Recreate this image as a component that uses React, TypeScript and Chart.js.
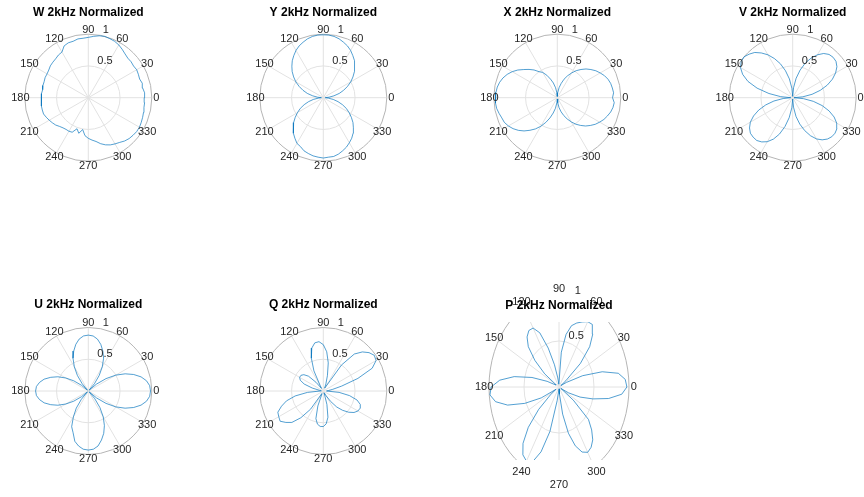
import { useEffect, useRef } from "react";
import { Chart, registerables } from "chart.js";

Chart.register(...registerables);

// Sample angles in degrees (counter-clockwise from +x)
const THETA = [
  0, 5, 10, 15, 20, 25, 30, 35, 40, 45, 50, 55,
  60, 65, 70, 75, 80, 85, 90, 95, 100, 105, 110, 115,
  120, 125, 130, 135, 140, 145, 150, 155, 160, 165, 170, 175,
  180, 185, 190, 195, 200, 205, 210, 215, 220, 225, 230, 235,
  240, 245, 250, 255, 260, 265, 270, 275, 280, 285, 290, 295,
  300, 305, 310, 315, 320, 325, 330, 335, 340, 345, 350, 355,
];

// Normalized magnitudes at 2 kHz, one value per angle in THETA
const W_R = [
  0.88, 0.89, 0.87, 0.88, 0.86, 0.87, 0.88, 0.87, 0.88, 0.88, 0.9, 0.93,
  0.96, 0.98, 0.99, 1.0, 0.99, 0.97, 0.95, 0.94, 0.94, 0.92, 0.92, 0.9,
  0.83, 0.82, 0.8, 0.79, 0.78, 0.76, 0.75, 0.75, 0.74, 0.74, 0.73, 0.74,
  0.74, 0.74, 0.75, 0.75, 0.75, 0.73, 0.71, 0.69, 0.67, 0.64, 0.62, 0.61,
  0.61, 0.6, 0.52, 0.58, 0.51, 0.6, 0.64, 0.67, 0.7, 0.75, 0.79, 0.82,
  0.84, 0.86, 0.89, 0.91, 0.92, 0.93, 0.93, 0.92, 0.91, 0.9, 0.89, 0.89,
];
const Y_R = [
  0.03, 0.09, 0.17, 0.26, 0.34, 0.42, 0.5, 0.57, 0.64, 0.7, 0.76, 0.81,
  0.86, 0.9, 0.93, 0.96, 0.98, 0.99, 0.99, 0.99, 0.98, 0.96, 0.93, 0.9,
  0.86, 0.81, 0.76, 0.7, 0.64, 0.57, 0.5, 0.42, 0.34, 0.26, 0.17, 0.09,
  0.03, 0.08, 0.16, 0.24, 0.32, 0.4, 0.47, 0.54, 0.61, 0.67, 0.73, 0.78,
  0.83, 0.85, 0.89, 0.91, 0.93, 0.94, 0.95, 0.94, 0.94, 0.92, 0.89, 0.86,
  0.82, 0.78, 0.73, 0.67, 0.61, 0.54, 0.47, 0.4, 0.32, 0.24, 0.16, 0.08,
];
const X_R = [
  0.87, 0.89, 0.88, 0.87, 0.85, 0.82, 0.78, 0.74, 0.69, 0.64, 0.58, 0.52,
  0.45, 0.38, 0.31, 0.23, 0.16, 0.08, 0.02, 0.08, 0.16, 0.24, 0.31, 0.39,
  0.46, 0.5, 0.57, 0.63, 0.69, 0.76, 0.82, 0.87, 0.91, 0.94, 0.96, 0.97,
  0.97, 0.98, 0.97, 0.95, 0.93, 0.92, 0.89, 0.85, 0.8, 0.74, 0.67, 0.6,
  0.52, 0.43, 0.34, 0.25, 0.17, 0.08, 0.02, 0.08, 0.16, 0.23, 0.3, 0.37,
  0.44, 0.51, 0.57, 0.63, 0.68, 0.73, 0.77, 0.81, 0.84, 0.87, 0.89, 0.9,
];
const V_R = [
  0.02, 0.16, 0.31, 0.45, 0.58, 0.69, 0.78, 0.85, 0.89, 0.9, 0.89, 0.85,
  0.78, 0.69, 0.58, 0.45, 0.31, 0.16, 0.02, 0.15, 0.3, 0.44, 0.57, 0.68,
  0.78, 0.86, 0.93, 0.97, 1.0, 0.99, 0.95, 0.87, 0.75, 0.58, 0.38, 0.19,
  0.03, 0.15, 0.3, 0.44, 0.57, 0.68, 0.77, 0.83, 0.87, 0.88, 0.88, 0.85,
  0.8, 0.72, 0.61, 0.47, 0.32, 0.16, 0.02, 0.15, 0.3, 0.43, 0.55, 0.66,
  0.75, 0.81, 0.85, 0.87, 0.87, 0.85, 0.8, 0.72, 0.61, 0.48, 0.33, 0.17,
];
const U_R = [
  0.98, 0.97, 0.93, 0.86, 0.76, 0.64, 0.5, 0.34, 0.17, 0.02, 0.15, 0.3,
  0.44, 0.57, 0.67, 0.76, 0.83, 0.87, 0.88, 0.87, 0.83, 0.76, 0.67, 0.57,
  0.44, 0.3, 0.15, 0.02, 0.14, 0.28, 0.41, 0.53, 0.63, 0.72, 0.78, 0.82,
  0.83, 0.82, 0.78, 0.72, 0.63, 0.53, 0.41, 0.28, 0.14, 0.02, 0.17, 0.33,
  0.47, 0.62, 0.7, 0.82, 0.88, 0.92, 0.93, 0.92, 0.88, 0.8, 0.71, 0.6,
  0.47, 0.32, 0.16, 0.02, 0.17, 0.34, 0.5, 0.64, 0.76, 0.86, 0.93, 0.97,
];
const Q_R = [
  0.05, 0.08, 0.15, 0.3, 0.58, 0.85, 0.96, 0.98, 0.94, 0.87, 0.76, 0.5,
  0.08, 0.05, 0.12, 0.25, 0.45, 0.62, 0.73, 0.78, 0.77, 0.7, 0.55, 0.35,
  0.1, 0.05, 0.18, 0.33, 0.4, 0.43, 0.43, 0.4, 0.32, 0.18, 0.06, 0.03,
  0.05, 0.25, 0.45, 0.6, 0.7, 0.79, 0.81, 0.83, 0.77, 0.7, 0.55, 0.35,
  0.05, 0.05, 0.25, 0.45, 0.53, 0.56, 0.56, 0.52, 0.42, 0.22, 0.05, 0.03,
  0.08, 0.2, 0.33, 0.43, 0.52, 0.59, 0.63, 0.64, 0.62, 0.55, 0.42, 0.25,
];
const P_R = [
  0.97, 0.95, 0.86, 0.64, 0.36, 0.12, 0.03, 0.12, 0.4, 0.62, 0.75, 0.83,
  0.82, 0.78, 0.74, 0.69, 0.58, 0.38, 0.05, 0.03, 0.1, 0.25, 0.45, 0.65,
  0.74, 0.75, 0.71, 0.62, 0.45, 0.25, 0.05, 0.05, 0.18, 0.4, 0.65, 0.85,
  0.97, 0.99, 0.92, 0.76, 0.52, 0.28, 0.05, 0.15, 0.38, 0.62, 0.8, 0.9,
  0.93, 0.9, 0.75, 0.5, 0.15, 0.03, 0.02, 0.08, 0.3, 0.52, 0.68, 0.78,
  0.82, 0.8, 0.75, 0.66, 0.55, 0.25, 0.03, 0.15, 0.32, 0.5, 0.72, 0.9,
];

// Axis ticks
const ANGLE_TICKS = [0, 30, 60, 90, 120, 150, 180, 210, 240, 270, 300, 330];
const R_TICKS = [0.5, 1];
const R_TICK_LABELS = ["0.5", "1"];
const R_LABEL_ANGLE = 80;

const TITLES = [
  "W 2kHz Normalized",
  "Y 2kHz Normalized",
  "X 2kHz Normalized",
  "V 2kHz Normalized",
  "U 2kHz Normalized",
  "Q 2kHz Normalized",
  "P 2kHz Normalized",
];

// Styling
const LINE_COLOR = "rgba(0,114,189,0.85)";
const GRID_COLOR = "#e2e2e2";
const EDGE_COLOR = "#b5b5b5";
const TEXT_COLOR = "#262626";
const FONT = '"Liberation Sans", Arial, Helvetica, sans-serif';

type Box = { x: number; y: number; w: number; h: number };
type Area = { left: number; right: number; top: number; bottom: number };
type PanelSpec = {
  title: string;
  r: number[];
  cx: number;
  cy: number;
  ax: number; // pixels per unit radius, horizontal
  ay: number; // pixels per unit radius, vertical
  titleY: number;
  box: Box;
  area?: Area; // clipping rectangle when the axes box cuts the rings
};

const RAD = 63.5;
const COL_X = [88.3, 323.3, 557.3, 792.7];
const ROW_Y = [97.7, 391];
const TITLE_Y = [13, 305];

function cellBox(col: number, row: number): Box {
  return { x: col * 216, y: row * 248, w: 216, h: row === 0 ? 248 : 249 };
}

const PANELS: PanelSpec[] = [
  { title: TITLES[0], r: W_R, cx: COL_X[0], cy: ROW_Y[0], ax: RAD, ay: RAD, titleY: TITLE_Y[0], box: cellBox(0, 0) },
  { title: TITLES[1], r: Y_R, cx: COL_X[1], cy: ROW_Y[0], ax: RAD, ay: RAD, titleY: TITLE_Y[0], box: cellBox(1, 0) },
  { title: TITLES[2], r: X_R, cx: COL_X[2], cy: ROW_Y[0], ax: RAD, ay: RAD, titleY: TITLE_Y[0], box: cellBox(2, 0) },
  { title: TITLES[3], r: V_R, cx: COL_X[3], cy: ROW_Y[0], ax: RAD, ay: RAD, titleY: TITLE_Y[0], box: cellBox(3, 0) },
  { title: TITLES[4], r: U_R, cx: COL_X[0], cy: ROW_Y[1], ax: RAD, ay: RAD, titleY: TITLE_Y[1], box: cellBox(0, 1) },
  { title: TITLES[5], r: Q_R, cx: COL_X[1], cy: ROW_Y[1], ax: RAD, ay: RAD, titleY: TITLE_Y[1], box: cellBox(1, 1) },
  {
    title: TITLES[6], r: P_R, cx: 559, cy: 387, ax: 70, ay: 92, titleY: 306, box: cellBox(2, 1),
    area: { left: 474, right: 644, top: 322, bottom: 460 },
  },
];

function toXY(r: number[]) {
  const pts = THETA.map((t, i) => {
    const a = (t * Math.PI) / 180;
    return { x: r[i] * Math.cos(a), y: r[i] * Math.sin(a) };
  });
  pts.push(pts[0]);
  return pts;
}

function polarFrame(spec: PanelSpec) {
  return {
    id: "polarFrame",
    beforeDatasetsDraw(chart: any) {
      const { ctx, chartArea, scales } = chart;
      const xs = scales.x;
      const ys = scales.y;
      const cx = xs.getPixelForValue(0);
      const cy = ys.getPixelForValue(0);
      const ax = xs.getPixelForValue(1) - cx;
      const ay = cy - ys.getPixelForValue(1);
      ctx.save();
      if (spec.area) {
        ctx.beginPath();
        ctx.rect(chartArea.left, chartArea.top, chartArea.right - chartArea.left, chartArea.bottom - chartArea.top);
        ctx.clip();
      }
      ctx.lineWidth = 1;
      ctx.strokeStyle = GRID_COLOR;
      for (const t of ANGLE_TICKS) {
        const a = (t * Math.PI) / 180;
        ctx.beginPath();
        ctx.moveTo(cx, cy);
        ctx.lineTo(cx + ax * Math.cos(a), cy - ay * Math.sin(a));
        ctx.stroke();
      }
      for (const rv of R_TICKS) {
        if (rv >= 1) continue;
        ctx.beginPath();
        ctx.ellipse(cx, cy, ax * rv, ay * rv, 0, 0, Math.PI * 2);
        ctx.stroke();
      }
      ctx.strokeStyle = EDGE_COLOR;
      ctx.beginPath();
      ctx.ellipse(cx, cy, ax, ay, 0, 0, Math.PI * 2);
      ctx.stroke();
      ctx.restore();
    },
    afterDatasetsDraw(chart: any) {
      const { ctx, scales } = chart;
      const xs = scales.x;
      const ys = scales.y;
      const cx = xs.getPixelForValue(0);
      const cy = ys.getPixelForValue(0);
      const ax = xs.getPixelForValue(1) - cx;
      const ay = cy - ys.getPixelForValue(1);
      ctx.save();
      ctx.fillStyle = TEXT_COLOR;
      ctx.font = `11px ${FONT}`;
      ctx.textAlign = "center";
      ctx.textBaseline = "middle";
      const lr = 1.07;
      for (const t of ANGLE_TICKS) {
        const a = (t * Math.PI) / 180;
        ctx.fillText(String(t), cx + ax * lr * Math.cos(a), cy - ay * lr * Math.sin(a));
      }
      ctx.textAlign = "left";
      const ra = (R_LABEL_ANGLE * Math.PI) / 180;
      R_TICKS.forEach((rv, i) => {
        const px = cx + ax * rv * Math.cos(ra);
        const py = cy - ay * rv * Math.sin(ra);
        ctx.fillText(R_TICK_LABELS[i], px + 3.5, py - 5.5);
      });
      ctx.fillStyle = "#000";
      ctx.font = `bold 12px ${FONT}`;
      ctx.textAlign = "center";
      ctx.fillText(spec.title, cx, spec.titleY - spec.box.y);
      ctx.restore();
    },
  };
}

function PolarPanel({ spec }: { spec: PanelSpec }) {
  const ref = useRef<HTMLCanvasElement>(null);
  const { box } = spec;

  useEffect(() => {
    const canvas = ref.current;
    if (!canvas) return;
    // Layout values are page pixels; convert to this canvas's frame.
    const cx = spec.cx - box.x;
    const cy = spec.cy - box.y;
    const pageArea = spec.area ?? {
      left: spec.cx - spec.ax,
      right: spec.cx + spec.ax,
      top: spec.cy - spec.ay,
      bottom: spec.cy + spec.ay,
    };
    const a = {
      left: pageArea.left - box.x,
      right: pageArea.right - box.x,
      top: pageArea.top - box.y,
      bottom: pageArea.bottom - box.y,
    };
    const chart = new Chart(canvas, {
      type: "scatter",
      data: {
        datasets: [
          {
            data: toXY(spec.r),
            showLine: true,
            borderColor: LINE_COLOR,
            borderWidth: 0.8,
            pointRadius: 0,
            pointHoverRadius: 0,
            fill: false,
            tension: 0,
            clip: spec.area ? 0 : 4,
          } as any,
        ],
      },
      options: {
        responsive: false,
        maintainAspectRatio: false,
        animation: false,
        events: [],
        devicePixelRatio: 1,
        layout: {
          autoPadding: false,
          padding: { left: a.left, right: box.w - a.right, top: a.top, bottom: box.h - a.bottom },
        },
        scales: {
          x: { type: "linear", display: false, min: (a.left - cx) / spec.ax, max: (a.right - cx) / spec.ax },
          y: { type: "linear", display: false, min: (cy - a.bottom) / spec.ay, max: (cy - a.top) / spec.ay },
        },
        plugins: {
          legend: { display: false },
          tooltip: { enabled: false },
          title: { display: false },
        },
      },
      plugins: [polarFrame(spec)],
    } as any);
    return () => chart.destroy();
  }, [spec]);

  return (
    <canvas
      ref={ref}
      width={box.w}
      height={box.h}
      style={{ position: "absolute", left: box.x, top: box.y, width: box.w, height: box.h }}
    />
  );
}

export default function App() {
  return (
    <div style={{ position: "absolute", left: 0, top: 0, width: 864, height: 497, background: "#fff", overflow: "hidden" }}>
      {PANELS.map((p) => (
        <PolarPanel key={p.title} spec={p} />
      ))}
    </div>
  );
}
